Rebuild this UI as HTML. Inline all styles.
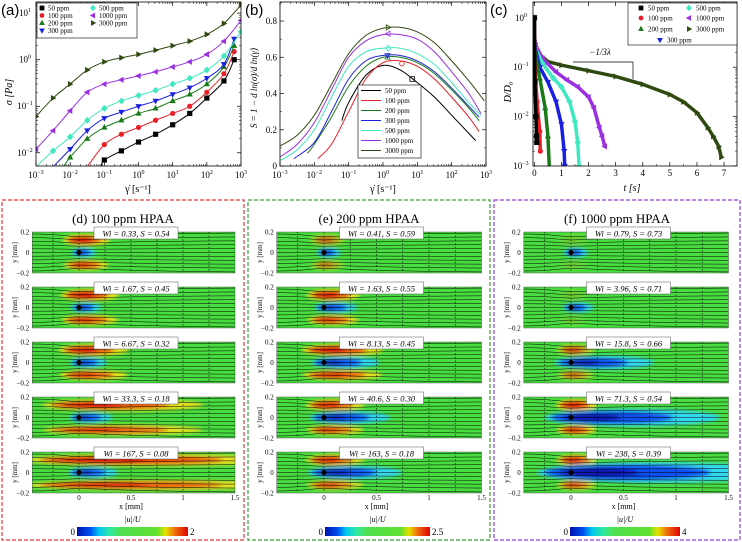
<!DOCTYPE html>
<html><head><meta charset="utf-8">
<style>
html,body{margin:0;padding:0;background:#fff;}
svg{display:block;font-family:"Liberation Serif",serif;}
</style></head>
<body>
<svg id="fig" width="742" height="542" viewBox="0 0 742 542" xmlns="http://www.w3.org/2000/svg">
<defs>
<filter id="blur" x="-50%" y="-50%" width="200%" height="200%"><feGaussianBlur stdDeviation="1.8"/></filter>
<linearGradient id="jet" x1="0" x2="1" y1="0" y2="0">
<stop offset="0" stop-color="#0010b0"/><stop offset="0.12" stop-color="#0050f0"/><stop offset="0.2" stop-color="#00c8f0"/><stop offset="0.3" stop-color="#30e8a0"/><stop offset="0.4" stop-color="#50e050"/><stop offset="0.72" stop-color="#60e030"/><stop offset="0.8" stop-color="#e8e000"/><stop offset="0.88" stop-color="#f07010"/><stop offset="1" stop-color="#e00000"/>
</linearGradient>
<clipPath id="clipA"><rect x="36" y="2" width="205" height="164"/></clipPath>
<clipPath id="clipB"><rect x="280" y="2" width="206" height="164"/></clipPath>
<clipPath id="clipC"><rect x="533" y="2" width="204" height="164"/></clipPath>
</defs>
<g id="root"></g>
</svg>
<script>
// ---------- Panel (a) data ----------
const seriesNames = ["50 ppm","100 ppm","200 ppm","300 ppm","500 ppm","1000 ppm","3000 ppm"];
const seriesColors = ["#000000","#e8202a","#1a7a1a","#1a20e0","#40e8c0","#9a30e0","#2f4a10"];
const seriesMarkers = ["square","circle","tri-up","tri-down","diamond","tri-left","tri-right"];
const aX50 = [-1.1,-1,-0.5,0,0.5,1,1.5,2,2.5,2.8];
const aY50 = [0.005,0.007,0.011,0.017,0.025,0.04,0.07,0.15,0.35,1.0];
const aX100 = [-1.5,-1,-0.5,0,0.5,1,1.5,2,2.5,2.8];
const aY100 = [0.005,0.015,0.025,0.035,0.05,0.07,0.1,0.2,0.5,1.5];
const aX200 = [-2.2,-2,-1.5,-1,-0.5,0,0.5,1,1.5,2,2.5,2.8];
const aY200 = [0.005,0.008,0.02,0.035,0.05,0.07,0.09,0.13,0.18,0.3,0.7,2.0];
const aX300 = [-2.5,-2,-1.5,-1,-0.5,0,0.5,1,1.5,2,2.5,2.8];
const aY300 = [0.005,0.012,0.03,0.055,0.075,0.1,0.13,0.18,0.25,0.4,0.8,2.8];
const aX500 = [-3,-2.5,-2,-1.5,-1,-0.5,0,0.5,1,1.5,2,2.5,3];
const aY500 = [0.005,0.011,0.022,0.05,0.09,0.13,0.17,0.22,0.3,0.4,0.6,1.2,4];
const aX1000 = [-3,-2.5,-2,-1.5,-1,-0.5,0,0.5,1,1.5,2,2.5,3];
const aY1000 = [0.012,0.03,0.08,0.2,0.3,0.37,0.45,0.55,0.7,0.9,1.3,2.5,7];
const aX3000 = [-3,-2.5,-2,-1.5,-1,-0.5,0,0.5,1,1.5,2,2.5,3];
const aY3000 = [0.06,0.15,0.3,0.6,0.9,1.1,1.3,1.6,2.0,2.5,3.5,6,15];
// ---------- Panel (b) data ----------
const bX50 = [-1.2,-1,-0.5,0,0.5,1,1.5,2,2.5,2.7];
const bS50 = [0.25,0.35,0.5,0.555,0.53,0.46,0.38,0.28,0.18,0.14];
const bX100 = [-1.9,-1.5,-1,-0.5,0,0.5,1,1.5,2,2.5,2.8];
const bS100 = [0.04,0.12,0.3,0.48,0.57,0.58,0.55,0.48,0.38,0.27,0.19];
const bX200 = [-2.2,-2,-1.5,-1,-0.5,0,0.5,1,1.5,2,2.5,2.8];
const bS200 = [0.07,0.12,0.27,0.44,0.55,0.6,0.6,0.57,0.51,0.42,0.32,0.25];
const bX300 = [-2.6,-2,-1.5,-1,-0.5,0,0.5,1,1.5,2,2.5,2.8];
const bS300 = [0.04,0.13,0.3,0.48,0.58,0.61,0.61,0.58,0.52,0.43,0.33,0.27];
const bX500 = [-3,-2.5,-2,-1.5,-1,-0.5,0,0.5,1,1.5,2,2.5,2.85];
const bS500 = [0.03,0.09,0.2,0.38,0.55,0.63,0.65,0.65,0.62,0.56,0.46,0.35,0.28];
const bX1000 = [-3,-2.5,-2,-1.5,-1,-0.5,0,0.5,1,1.5,2,2.5,2.85];
const bS1000 = [0.05,0.12,0.24,0.42,0.6,0.69,0.725,0.725,0.7,0.63,0.52,0.4,0.29];
const bX3000 = [-3,-2.5,-2,-1.5,-1,-0.5,0,0.5,1,1.5,2,2.5,2.95];
const bS3000 = [0.11,0.17,0.28,0.45,0.62,0.72,0.76,0.765,0.74,0.68,0.58,0.47,0.36];
const bMarkX = [0.85,0.55,0.13,0.13,0.15,0.15,0.15];
const bMarkS = [0.48,0.565,0.6,0.61,0.65,0.73,0.765];
// ---------- Panel (c) data ----------
const cT50 = [0,0.02,0.06,0.08,0.09];
const cD50 = [1,0.05,0.01,0.004,0.003];
const cT100 = [0,0.02,0.1,0.2,0.22];
const cD100 = [1,0.1,0.02,0.005,0.002];
const cT200 = [0,0.02,0.2,0.4,0.5,0.55];
const cD200 = [1,0.2,0.06,0.015,0.004,0.001];
const cT300 = [0,0.02,0.2,0.5,0.8,1,1.1,1.12];
const cD300 = [1,0.25,0.1,0.05,0.02,0.007,0.002,0.001];
const cT500 = [0,0.02,0.3,0.7,1,1.3,1.5,1.6,1.65];
const cD500 = [1,0.25,0.12,0.06,0.04,0.02,0.008,0.003,0.001];
const cT1000 = [0,0.02,0.3,0.8,1.2,1.6,2,2.2,2.4,2.5,2.6];
const cD1000 = [1,0.3,0.15,0.08,0.055,0.04,0.025,0.015,0.006,0.004,0.0025];
const cT3000 = [0,0.02,0.1,0.5,1,2,3,4,5,5.5,6,6.4,6.6,6.8,6.9];
const cD3000 = [1,0.3,0.2,0.13,0.11,0.085,0.065,0.045,0.028,0.02,0.012,0.006,0.004,0.0025,0.0015];
// ---------- tick labels ----------
const logTickExps = [-3,-2,-1,0,1,2,3];
const aYTickExps = [-2,-1,0,1];
const bYTicks = [0,0.2,0.4,0.6,0.8];
const cXTicks = [0,1,2,3,4,5,6,7];
const cYTickExps = [-3,-2,-1,0];

const NS="http://www.w3.org/2000/svg";
const root=document.getElementById('root');
function el(tag,attrs,parent){const e=document.createElementNS(NS,tag);for(const k in attrs)e.setAttribute(k,attrs[k]);(parent||root).appendChild(e);return e;}
function txt(x,y,s,size,anchor,parent,extra){const t=el('text',Object.assign({x:x,y:y,'font-size':size,'text-anchor':anchor||'middle'},extra||{}),parent);t.textContent=s;return t;}
function powLabel(x,y,e,parent){const t=el('text',{x:x,y:y,'font-size':9,'text-anchor':'middle'},parent);const a=document.createElementNS(NS,'tspan');a.textContent='10';t.appendChild(a);const b=document.createElementNS(NS,'tspan');b.setAttribute('dy','-4');b.setAttribute('font-size','6');b.textContent=String(e).replace('-','\u2212');t.appendChild(b);return t;}
function marker(g,type,x,y,r,color,fill){
  let e;
  const f=fill===false?'none':color;
  if(type==='square')e=el('rect',{x:x-r,y:y-r,width:2*r,height:2*r,fill:f,stroke:color,'stroke-width':0.8},g);
  else if(type==='circle')e=el('circle',{cx:x,cy:y,r:r,fill:f,stroke:color,'stroke-width':0.8},g);
  else if(type==='diamond')e=el('polygon',{points:`${x},${y-r*1.3} ${x+r*1.2},${y} ${x},${y+r*1.3} ${x-r*1.2},${y}`,fill:f,stroke:color,'stroke-width':0.8},g);
  else{let p;
    if(type==='tri-up')p=[[x,y-r*1.2],[x+r*1.1,y+r*0.8],[x-r*1.1,y+r*0.8]];
    else if(type==='tri-down')p=[[x,y+r*1.2],[x+r*1.1,y-r*0.8],[x-r*1.1,y-r*0.8]];
    else if(type==='tri-left')p=[[x-r*1.2,y],[x+r*0.8,y-r*1.1],[x+r*0.8,y+r*1.1]];
    else p=[[x+r*1.2,y],[x-r*0.8,y-r*1.1],[x-r*0.8,y+r*1.1]];
    e=el('polygon',{points:p.map(q=>q.join(',')).join(' '),fill:f,stroke:color,'stroke-width':0.8},g);}
  return e;
}
function smoothPath(pts){
  let d=`M${pts[0][0]},${pts[0][1]}`;
  for(let i=0;i<pts.length-1;i++){const p0=pts[Math.max(0,i-1)],p1=pts[i],p2=pts[i+1],p3=pts[Math.min(pts.length-1,i+2)];
    d+=` C${p1[0]+(p2[0]-p0[0])/6},${p1[1]+(p2[1]-p0[1])/6} ${p2[0]-(p3[0]-p1[0])/6},${p2[1]-(p3[1]-p1[1])/6} ${p2[0]},${p2[1]}`;}
  return d;
}

// ================= Panel (a) =================
(function(){
const g=el('g',{});


const L=36,R=241,T=2,B=166;
const xs=v=>L+(v+3)/6*(R-L);
const ymin=Math.log10(0.0052),ymax=1.24;
const ys=v=>B-(Math.log10(v)-ymin)/(ymax-ymin)*(B-T);
txt(1,15,'(a)',15,'start',g,{'font-family':'Liberation Sans, sans-serif'});
for(const e of logTickExps){const x=xs(e);
  el('line',{x1:x,y1:B,x2:x,y2:B-4,stroke:'#000','stroke-width':0.7},g);el('line',{x1:x,y1:T,x2:x,y2:T+4,stroke:'#000','stroke-width':0.7},g);
  const lab=powLabel(x,178,e,g);
  for(let k=2;k<10&&e<3;k++){const xm=xs(e+Math.log10(k));el('line',{x1:xm,y1:B,x2:xm,y2:B-2,stroke:'#000','stroke-width':0.5},g);el('line',{x1:xm,y1:T,x2:xm,y2:T+2,stroke:'#000','stroke-width':0.5},g);}}
for(const e of aYTickExps){const y=ys(Math.pow(10,e));
  el('line',{x1:L,y1:y,x2:L+4,y2:y,stroke:'#000','stroke-width':0.7},g);el('line',{x1:R,y1:y,x2:R-4,y2:y,stroke:'#000','stroke-width':0.7},g);
  const lab=powLabel(25,y+3,e,g);
  for(let k=2;k<10;k++){const ym=ys(k*Math.pow(10,e));if(ym>T&&ym<B){el('line',{x1:L,y1:ym,x2:L+2,y2:ym,stroke:'#000','stroke-width':0.5},g);el('line',{x1:R,y1:ym,x2:R-2,y2:ym,stroke:'#000','stroke-width':0.5},g);}}}
const xt=txt(138,192,'\u03B3\u0307 [s\u207B\u00B9]',10,'middle',g);
const yt=txt(0,0,'\u03C3 [Pa]',10,'middle',g,{transform:'translate(12,92) rotate(-90)','font-style':'italic'});
const X=[aX50,aX100,aX200,aX300,aX500,aX1000,aX3000],Y=[aY50,aY100,aY200,aY300,aY500,aY1000,aY3000];
const cg=el('g',{'clip-path':'url(#clipA)'},g);
for(let s=0;s<7;s++){const pts=X[s].map((v,i)=>[xs(v),ys(Y[s][i])]);
  const p=el('path',{d:smoothPath(pts),fill:'none',stroke:seriesColors[s],'stroke-width':1},cg);
  
  pts.forEach(q=>{if(q[1]<B-1){const m=marker(cg,seriesMarkers[s],q[0],q[1],2.2,seriesColors[s]);}});}
el('rect',{x:L,y:T,width:R-L,height:B-T,fill:'none',stroke:'#000','stroke-width':0.8},g);
const lg=el('g',{},g);
el('rect',{x:37,y:3,width:100,height:35,fill:'#fff',stroke:'#000','stroke-width':0.6},lg);
const pos=[[42,8],[42,15.5],[42,23],[42,30.5],[93,8],[93,15.5],[93,23]];
for(let s=0;s<7;s++){marker(lg,seriesMarkers[s],pos[s][0],pos[s][1],2,seriesColors[s]);const t=txt(pos[s][0]+6,pos[s][1]+2.5,seriesNames[s],7,'start',lg);}
})();

// ================= Panel (b) =================
(function(){
const g=el('g',{});


const L=280,R=486,T=2,B=166;
const xs=v=>L+(v+3)/6*(R-L);
const ys=v=>B-v/0.905*(B-T);
txt(245,15,'(b)',15,'start',g,{'font-family':'Liberation Sans, sans-serif'});
for(const e of logTickExps){const x=xs(e);
  el('line',{x1:x,y1:B,x2:x,y2:B-4,stroke:'#000','stroke-width':0.7},g);el('line',{x1:x,y1:T,x2:x,y2:T+4,stroke:'#000','stroke-width':0.7},g);
  const lab=powLabel(x,178,e,g);
  for(let k=2;k<10&&e<3;k++){const xm=xs(e+Math.log10(k));el('line',{x1:xm,y1:B,x2:xm,y2:B-2,stroke:'#000','stroke-width':0.5},g);el('line',{x1:xm,y1:T,x2:xm,y2:T+2,stroke:'#000','stroke-width':0.5},g);}}
for(const v of bYTicks){const y=ys(v);
  el('line',{x1:L,y1:y,x2:L+4,y2:y,stroke:'#000','stroke-width':0.7},g);el('line',{x1:R,y1:y,x2:R-4,y2:y,stroke:'#000','stroke-width':0.7},g);
  const lab=txt(L-3,y+3,v===0?'0':v.toFixed(1),9,'end',g);
  const ym=ys(v+0.1);if(ym>T){el('line',{x1:L,y1:ym,x2:L+2,y2:ym,stroke:'#000','stroke-width':0.5},g);el('line',{x1:R,y1:ym,x2:R-2,y2:ym,stroke:'#000','stroke-width':0.5},g);}}
const xt=txt(383,192,'\u03B3\u0307 [s\u207B\u00B9]',10,'middle',g);
const yt=txt(0,0,'S = 1 \u2212 d ln(\u03C3)/d ln(\u03B3\u0307)',9,'middle',g,{transform:'translate(257,88) rotate(-90)','font-style':'italic'});
const X=[bX50,bX100,bX200,bX300,bX500,bX1000,bX3000],Y=[bS50,bS100,bS200,bS300,bS500,bS1000,bS3000];
const cg=el('g',{'clip-path':'url(#clipB)'},g);
for(let s=0;s<7;s++){const pts=X[s].map((v,i)=>[xs(v),ys(Y[s][i])]);
  const p=el('path',{d:smoothPath(pts),fill:'none',stroke:seriesColors[s],'stroke-width':1},cg);
  
  const m=marker(cg,seriesMarkers[s],xs(bMarkX[s]),ys(bMarkS[s]),2.3,seriesColors[s],false);}
el('rect',{x:L,y:T,width:R-L,height:B-T,fill:'none',stroke:'#000','stroke-width':0.8},g);
const lg=el('g',{},g);
el('rect',{x:358,y:85,width:63,height:73,fill:'#fff',stroke:'#000','stroke-width':0.6},lg);
for(let s=0;s<7;s++){const y=90.5+s*10;el('line',{x1:361,y1:y,x2:381,y2:y,stroke:seriesColors[s],'stroke-width':1},lg);const t=txt(385,y+2.5,seriesNames[s],7,'start',lg);}
})();

// ================= Panel (c) =================
(function(){
const g=el('g',{});


const L=533,R=737,T=2,B=166;
const xs=v=>L+(v+0.05)*27.1;
const ymin=-3,ymax=0.32;
const ys=v=>B-(Math.log10(v)-ymin)/(ymax-ymin)*(B-T);
txt(490,15,'(c)',15,'start',g,{'font-family':'Liberation Sans, sans-serif'});
for(const v of cXTicks){const x=xs(v);
  el('line',{x1:x,y1:B,x2:x,y2:B-4,stroke:'#000','stroke-width':0.7},g);el('line',{x1:x,y1:T,x2:x,y2:T+4,stroke:'#000','stroke-width':0.7},g);
  const lab=txt(x,176,String(v),9,'middle',g);
  const xm=xs(v+0.5);if(xm<R){el('line',{x1:xm,y1:B,x2:xm,y2:B-2,stroke:'#000','stroke-width':0.5},g);}}
for(const e of cYTickExps){const y=ys(Math.pow(10,e));
  el('line',{x1:L,y1:y,x2:L+4,y2:y,stroke:'#000','stroke-width':0.7},g);el('line',{x1:R,y1:y,x2:R-4,y2:y,stroke:'#000','stroke-width':0.7},g);
  const lab=powLabel(L-12,y+3,e,g);
  for(let k=2;k<10;k++){const ym=ys(k*Math.pow(10,e));if(ym>T){el('line',{x1:L,y1:ym,x2:L+2,y2:ym,stroke:'#000','stroke-width':0.5},g);el('line',{x1:R,y1:ym,x2:R-2,y2:ym,stroke:'#000','stroke-width':0.5},g);}}}
const xt=txt(632,191,'t [s]',10,'middle',g,{'font-style':'italic'});
const yt=txt(0,0,'D/D\u2080',10,'middle',g,{transform:'translate(511,92) rotate(-90)','font-style':'italic'});
const X=[cT50,cT100,cT200,cT300,cT500,cT1000,cT3000],Y=[cD50,cD100,cD200,cD300,cD500,cD1000,cD3000];
const cg=el('g',{'clip-path':'url(#clipC)'},g);
for(let s=6;s>=0;s--){const pts=X[s].map((v,i)=>[xs(v),ys(Y[s][i])]);
  const p=el('polyline',{points:pts.map(q=>q.join(',')).join(' '),fill:'none',stroke:seriesColors[s],'stroke-width':3.5,'stroke-linejoin':'round'},cg);
  
  pts.forEach(q=>{const m=marker(cg,seriesMarkers[s],q[0],q[1],2.2,seriesColors[s]);});}
el('rect',{x:L,y:T,width:R-L,height:B-T,fill:'none',stroke:'#000','stroke-width':0.8},g);
const sl=el('polyline',{points:'573,62 633,62 633,79',fill:'none',stroke:'#000','stroke-width':0.7},g);
txt(600,55,'\u22121/3\u03BB',9,'middle',g,{'font-style':'italic'});
const lg=el('g',{},g);
el('rect',{x:628,y:3,width:109,height:42,fill:'#fff',stroke:'#000','stroke-width':0.6},lg);
const pos=[[641,8],[641,18],[641,29],[660,40],[689,8],[689,18],[689,29]];
for(let s=0;s<7;s++){marker(lg,seriesMarkers[s],pos[s][0],pos[s][1],2,seriesColors[s]);const t=txt(pos[s][0]+7,pos[s][1]+2.5,seriesNames[s],7,'start',lg);}
})();

// ================= Flow field panels =================
const panels=[
 {name:'d',title:'(d) 100 ppm HPAA',box:[2,200,242,340],color:'#e0383a',x0:79,scale:104,cmax:'2',cb:[77,188],
  labels:['Wi = 0.33, S = 0.54','Wi = 1.67, S = 0.45','Wi = 6.67, S = 0.32','Wi = 33.3, S = 0.18','Wi = 167, S = 0.08'],
  red:[0.9,1,0.9,0.9,1],wake:[0.1,0.15,0.2,0.25,0.3],redLen:[0.2,0.3,0.4,1.2,2]},
 {name:'e',title:'(e) 200 ppm HPAA',box:[248,200,242,340],color:'#38a038',x0:324,scale:105,cmax:'2.5',cb:[325,430],
  labels:['Wi = 0.41, S = 0.59','Wi = 1.63, S = 0.55','Wi = 8.13, S = 0.45','Wi = 40.6, S = 0.30','Wi = 163, S = 0.18'],
  red:[0.4,0.9,1,0.8,0.7],wake:[0.1,0.25,0.45,0.55,0.65],redLen:[0.1,0.25,0.5,0.3,0.3]},
 {name:'f',title:'(f) 1000 ppm HPAA',box:[494,200,246,340],color:'#9040d8',x0:571,scale:105,cmax:'4',cb:[570,680],
  labels:['Wi = 0.79, S = 0.73','Wi = 3.96, S = 0.71','Wi = 15.8, S = 0.66','Wi = 71.3, S = 0.54','Wi = 238, S = 0.39'],
  red:[0.05,0.05,0.5,0.9,0.7],wake:[0.1,0.15,0.7,1.3,1.8],redLen:[0.05,0.05,0.12,0.15,0.15]}
];
const rowTops=[232,287,342,397,452];
panels.forEach(P=>{
  const g=el('g',{});
  
  
  el('rect',{x:P.box[0],y:P.box[1],width:P.box[2],height:P.box[3],fill:'none',stroke:P.color,'stroke-width':1.2,'stroke-dasharray':'4,2'},g);
  const tt=txt(P.box[0]+P.box[2]/2,223,P.title,13,'middle',g);
  const L=P.x0-0.45*P.scale,W=1.95*P.scale,H=41;
  rowTops.forEach((top,ri)=>{
    const sg=el('g',{},g);
    
    
    const cid='cl'+P.name+ri;
    const cp=el('clipPath',{id:cid},sg);el('rect',{x:L,y:top,width:W,height:H},cp);
    const fg=el('g',{'clip-path':`url(#${cid})`},sg);
    el('rect',{x:L,y:top,width:W,height:H,fill:'#48dc40'},fg);
    const bg=el('g',{filter:'url(#blur)'},fg);
    const cy=top+H/2;
    const r=P.red[ri],rl=P.redLen[ri]*P.scale;
    // yellow/red bands top & bottom
    el('ellipse',{cx:P.x0+rl*0.35,cy:top+8,rx:12+rl*0.55,ry:6,fill:'#e8e020',opacity:Math.min(1,r+0.1)},bg);
    el('ellipse',{cx:P.x0+rl*0.25,cy:top+8,rx:9+rl*0.4,ry:4.5,fill:'#e85010',opacity:r},bg);
    el('ellipse',{cx:P.x0+rl*0.1,cy:top+8,rx:6+rl*0.2,ry:3.5,fill:'#d81008',opacity:r},bg);
    el('ellipse',{cx:P.x0+rl*0.35,cy:top+H-8,rx:11+rl*0.55,ry:5,fill:'#e8e020',opacity:Math.min(1,r+0.1)},bg);
    el('ellipse',{cx:P.x0+rl*0.25,cy:top+H-8,rx:8+rl*0.4,ry:3.8,fill:'#e85010',opacity:r*0.9},bg);
    el('ellipse',{cx:P.x0+rl*0.1,cy:top+H-8,rx:5+rl*0.2,ry:2.8,fill:'#d81008',opacity:r*0.8},bg);
    // wake
    const wl=P.wake[ri]*P.scale;
    el('ellipse',{cx:P.x0+wl*0.45,cy:cy,rx:wl*0.6+6,ry:4.5+wl*0.03,fill:'#30d8f0'},bg);
    el('ellipse',{cx:P.x0+wl*0.3,cy:cy,rx:wl*0.42+4,ry:3+wl*0.025,fill:'#1050f0'},bg);
    el('ellipse',{cx:P.x0+wl*0.15,cy:cy,rx:wl*0.2+2,ry:2+wl*0.015,fill:'#0818b0'},bg);
    el('circle',{cx:P.x0,cy:cy,r:2.5,fill:'#000'},fg);
    for(let k=0;k<11;k++){const yy=top+2+k*3.7;const bend=(yy-cy)*0.15;
      el('path',{d:`M${L},${yy} C${P.x0-20},${yy} ${P.x0-8},${yy-bend} ${P.x0},${yy-bend} S${P.x0+40},${yy} ${L+W},${yy+ (yy-cy)*0.05}`,fill:'none',stroke:'#000','stroke-width':0.5},fg);}
    for(let k=0;k<8;k++){const xx=P.x0+(k-1)*0.25*P.scale;if(xx>L&&xx<L+W)el('line',{x1:xx,y1:top,x2:xx,y2:top+H,stroke:'#000','stroke-width':0.6,'stroke-dasharray':'1.5,2.2'},fg);}
    el('rect',{x:L,y:top,width:W,height:H,fill:'none',stroke:'#333','stroke-width':0.4},sg);
    [['0.2',top],['0',cy],['-0.2',top+H]].forEach(([s,y])=>txt(L-3,y+2.5,s.replace('-','\u2212'),7,'end',sg));
    txt(0,0,'y [mm]',7,'middle',sg,{transform:`translate(${L-15},${cy}) rotate(-90)`});
    const lw=84,lx=P.x0+0.5*P.scale-lw/2+5;
    el('rect',{x:lx,y:top-5,width:lw,height:12,fill:'#fff',stroke:'#555','stroke-width':0.5},sg);
    const wt=txt(lx+lw/2,top+4.5,P.labels[ri],8.5,'middle',sg,{'font-style':'italic'});
  });
  ['0','0.5','1','1.5'].forEach((s,i)=>{txt(P.x0+i*0.5*P.scale,500,s,7,'middle',g);});
  txt(P.x0+0.5*P.scale,509,'x [mm]',8,'middle',g);
  const cb=el('g',{},g);
  txt((P.cb[0]+P.cb[1])/2,522,'|u|/U',8,'middle',cb,{'font-style':'italic'});
  el('rect',{x:P.cb[0],y:527,width:P.cb[1]-P.cb[0],height:9,fill:'url(#jet)'},cb);
  txt(P.cb[0]-2,535,'0',9,'end',cb);txt(P.cb[1]+2,535,P.cmax,9,'start',cb);
});
</script>
</body></html>
